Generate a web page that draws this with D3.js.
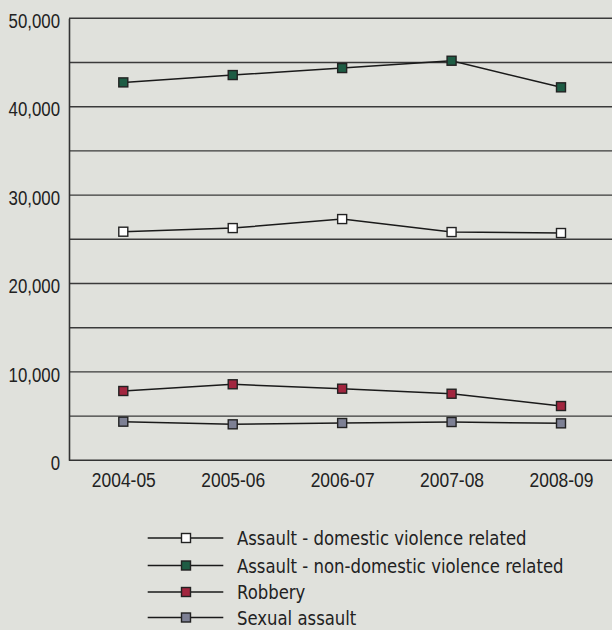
<!DOCTYPE html>
<html>
<head>
<meta charset="utf-8">
<script src="https://cdn.jsdelivr.net/npm/d3@7"></script>
<style>
body{margin:0;background:#e0e1dc;}
svg{display:block;font-family:"Liberation Sans Narrow","DejaVu Sans Condensed",sans-serif;}
</style>
</head>
<body>
<svg id="chart"></svg>
<script>
// data
let years=["2004-05","2005-06","2006-07","2007-08","2008-09"];
let domestic=[25860,26270,27290,25820,25710];
let nonDomestic=[42750,43580,44370,45200,42190];
let robbery=[7840,8600,8100,7530,6140];
let sexual=[4370,4070,4220,4330,4180];
let yTicks=[0,10000,20000,30000,40000,50000];
let gridVals=d3.range(5000,50001,5000);

let series=[
  {name:"Assault - domestic violence related",vals:domestic,color:"#ffffff"},
  {name:"Assault - non-domestic violence related",vals:nonDomestic,color:"#1e5c44"},
  {name:"Robbery",vals:robbery,color:"#a2263f"},
  {name:"Sexual assault",vals:sexual,color:"#7d8094"}
];

let W=612,H=630;
let svg=d3.select("#chart").attr("width",W).attr("height",H);

let x=d3.scalePoint().domain(years).range([123.3,561]);
let y=d3.scaleLinear().domain([0,50000]).range([460.3,18.3]);

// squeeze text to look like the narrow font of the original
function narrow(sel,k){
  sel.each(function(){
    let w=this.getComputedTextLength();
    d3.select(this).attr("textLength",w*k).attr("lengthAdjust","spacingAndGlyphs")
  })
}

// gridlines
svg.selectAll(".grid")
.data(gridVals)
.enter()
.append("line")
.attr("x1",69).attr("x2",W)
.attr("y1",d=>y(d)).attr("y2",d=>y(d))
.attr("stroke","#3a3a3a").attr("stroke-width",1.4)

// y axis
let yAxis=svg.append("g").attr("transform","translate(69,0)")
.call(d3.axisLeft(y).tickValues(yTicks).tickSize(0).tickPadding(9).tickFormat(d3.format(",")))
yAxis.select(".domain").attr("stroke","#333").attr("stroke-width",1.6)
yAxis.selectAll("text").attr("font-size",20.5).attr("fill","#222").attr("font-family",null).attr("dy","0.45em")
.call(narrow,0.82)

// x axis
let xAxis=svg.append("g").attr("transform","translate(0,460.3)")
.call(d3.axisBottom(x).tickSize(0).tickPadding(11))
xAxis.select(".domain").attr("d","M69,0H"+W).attr("stroke","#333").attr("stroke-width",1.6)
xAxis.selectAll("text").attr("font-size",20.5).attr("fill","#222").attr("font-family",null).attr("dy","0.75em")
.call(narrow,0.85)

let line=d3.line().x((d,i)=>x(years[i])).y(d=>y(d));

series.forEach(s=>{
  svg.append("path")
  .attr("d",line(s.vals))
  .attr("fill","none").attr("stroke","#1a1a1a").attr("stroke-width",1.5)
  svg.selectAll(null)
  .data(s.vals)
  .enter()
  .append("rect")
  .attr("x",(d,i)=>x(years[i])-4.5)
  .attr("y",d=>y(d)-4.5)
  .attr("width",9).attr("height",9)
  .attr("fill",s.color).attr("stroke","#222").attr("stroke-width",1.4)
})

// legend
let legY=[538,565.5,592,617.5];
let leg=svg.selectAll(".leg")
.data(series)
.enter()
.append("g")
.attr("transform",(d,i)=>"translate(0,"+legY[i]+")")
leg.append("line").attr("x1",147.7).attr("x2",223.3).attr("stroke","#1a1a1a").attr("stroke-width",1.5)
leg.append("rect").attr("x",186-4.5).attr("y",-4.5).attr("width",9).attr("height",9)
.attr("fill",d=>d.color).attr("stroke","#222").attr("stroke-width",1.4)
leg.append("text").attr("x",237).attr("dy","0.36em").attr("font-size",19.5).attr("fill","#222")
.text(d=>d.name)
.call(narrow,0.94)
</script>
</body>
</html>
